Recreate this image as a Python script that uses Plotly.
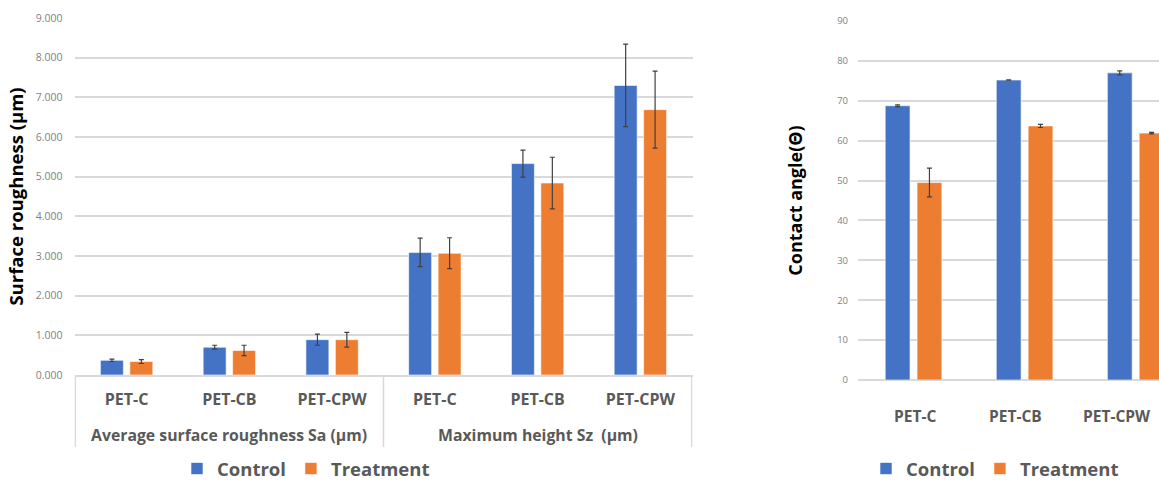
import plotly.graph_objects as go

# ---- Left chart data (surface roughness) ----
groups = ["Average surface roughness Sa (µm)", "Maximum height Sz  (µm)"]
group_of = [0, 0, 0, 1, 1, 1]
rough_keys = ["Sa PET-C", "Sa PET-CB", "Sa PET-CPW", "Sz PET-C", "Sz PET-CB", "Sz PET-CPW"]
rough_labels = ["PET-C", "PET-CB", "PET-CPW", "PET-C", "PET-CB", "PET-CPW"]
rough_control = [0.37, 0.70, 0.89, 3.09, 5.33, 7.30]
rough_control_err = [0.03, 0.05, 0.14, 0.36, 0.34, 1.04]
rough_treat = [0.34, 0.62, 0.89, 3.07, 4.84, 6.69]
rough_treat_err = [0.05, 0.13, 0.185, 0.39, 0.65, 0.97]
rough_ticks = [f"{v:.3f}" for v in range(0, 10)]

# ---- Right chart data (contact angle) ----
samples = ["PET-C", "PET-CB", "PET-CPW"]
angle_control = [68.75, 75.2, 77.0]
angle_control_err = [0.2, 0.05, 0.5]
angle_treat = [49.5, 63.7, 61.9]
angle_treat_err = [3.6, 0.4, 0.2]

BLUE = "#4472C4"
ORANGE = "#ED7D31"
GRID = "#D9D9D9"
TXT = "#595959"
TICK = "#7F7F7F"
ERR = "#404040"
FONT = "Open Sans"
W, H = 1159, 482


def px_y(p):
    """paper y from pixel row"""
    return (H - p) / H


def err(vals):
    return dict(type="data", array=vals, visible=True, color=ERR, thickness=1.2, width=2.5)


fig = go.Figure()
fig.add_trace(go.Bar(x=rough_keys, y=rough_control, name="Control", marker_color=BLUE,
                     marker_line=dict(color="white", width=0.6),
                     error_y=err(rough_control_err), xaxis="x", yaxis="y", legend="legend"))
fig.add_trace(go.Bar(x=rough_keys, y=rough_treat, name="Treatment", marker_color=ORANGE,
                     marker_line=dict(color="white", width=0.6),
                     error_y=err(rough_treat_err), xaxis="x", yaxis="y", legend="legend"))
fig.add_trace(go.Bar(x=samples, y=angle_control, name="Control", marker_color=BLUE,
                     marker_line=dict(color="white", width=0.6),
                     error_y=err(angle_control_err), xaxis="x2", yaxis="y2", legend="legend2"))
fig.add_trace(go.Bar(x=samples, y=angle_treat, name="Treatment", marker_color=ORANGE,
                     marker_line=dict(color="white", width=0.6),
                     error_y=err(angle_treat_err), xaxis="x2", yaxis="y2", legend="legend2"))

annotations = []
# group (outer) labels of the left chart, centred under the middle category of each group
for gi, gname in enumerate(groups):
    members = [k for k, g in zip(rough_keys, group_of) if g == gi]
    annotations.append(dict(x=members[len(members) // 2], xref="x", y=px_y(435), yref="paper",
                            text=f"<b>{gname}</b>", showarrow=False, yanchor="middle",
                            font=dict(size=15.8, color=TXT, family=FONT)))
# category labels of the right chart
label_shift = [1, -9, -19]
for s, sh in zip(samples, label_shift):
    annotations.append(dict(x=s, xref="x2", y=px_y(416), yref="paper", xshift=sh,
                            text=f"<b>{s}</b>", showarrow=False, yanchor="middle",
                            font=dict(size=15.5, color=TXT, family=FONT)))

# dividers of the left chart's grouped axis: chart edges and group boundary
shapes = []
n_per = [group_of.count(g) for g in range(len(groups))]
bounds = [-0.5]
for n in n_per:
    bounds.append(bounds[-1] + n)
for b in bounds:
    shapes.append(dict(type="line", xref="x", yref="paper", x0=b, x1=b,
                       y0=px_y(375), y1=px_y(447), line=dict(color=GRID, width=1.5)))

fig.update_layout(
    width=W, height=H,
    margin=dict(l=0, r=0, t=0, b=0, autoexpand=False),
    paper_bgcolor="white", plot_bgcolor="white",
    font=dict(family=FONT, color=TXT),
    barmode="group", bargap=0.427, bargroupgap=0.22,
    xaxis=dict(domain=[74.5 / W, 692.5 / W], anchor="y", type="category", automargin=False,
               tickvals=rough_keys, ticktext=[f"<b>{t}</b>" for t in rough_labels],
               showline=True, linecolor=GRID, linewidth=1.5,
               tickfont=dict(size=16, color=TXT), ticklabelstandoff=9,
               ticks="", showgrid=False),
    yaxis=dict(domain=[px_y(375), px_y(18)], anchor="x", range=[0, 9], automargin=False,
               tickvals=list(range(0, 10)), ticktext=rough_ticks,
               showgrid=True, gridcolor=GRID, gridwidth=1.5,
               zeroline=False, showline=False, ticks="", ticklabelstandoff=11,
               tickfont=dict(size=10.5, color=TICK),
               title=dict(text="<b>Surface roughness (µm)</b>", font=dict(size=18.5, color="black"),
                          standoff=7)),
    xaxis2=dict(domain=[858 / W, 1.0], anchor="y2", range=[-0.5, 2.21], automargin=False,
                showline=False, ticks="", showgrid=False, showticklabels=False),
    yaxis2=dict(domain=[px_y(380), px_y(21)], anchor="x2", range=[0, 90], automargin=False,
                dtick=10, showgrid=True, gridcolor=GRID, gridwidth=1.5,
                zeroline=True, zerolinecolor=GRID, zerolinewidth=1.5,
                showline=False, ticks="", ticklabelstandoff=9,
                tickfont=dict(size=9.5, color=TICK),
                title=dict(text="<b>Contact angle(Θ)</b>", font=dict(size=18, color="black"),
                           standoff=29)),
    legend=dict(orientation="h", x=177 / W, xanchor="left", y=px_y(469), yanchor="middle",
                font=dict(size=18.5, color=TXT, weight="bold"), bgcolor="rgba(0,0,0,0)"),
    legend2=dict(orientation="h", x=866 / W, xanchor="left", y=px_y(469), yanchor="middle",
                 font=dict(size=18.5, color=TXT, weight="bold"), bgcolor="rgba(0,0,0,0)"),
    annotations=annotations,
    shapes=shapes,
)

fig.write_html("out.html", config={"displayModeBar": False},
               post_script="document.body.style.margin='0px';document.body.style.overflow='hidden';")
